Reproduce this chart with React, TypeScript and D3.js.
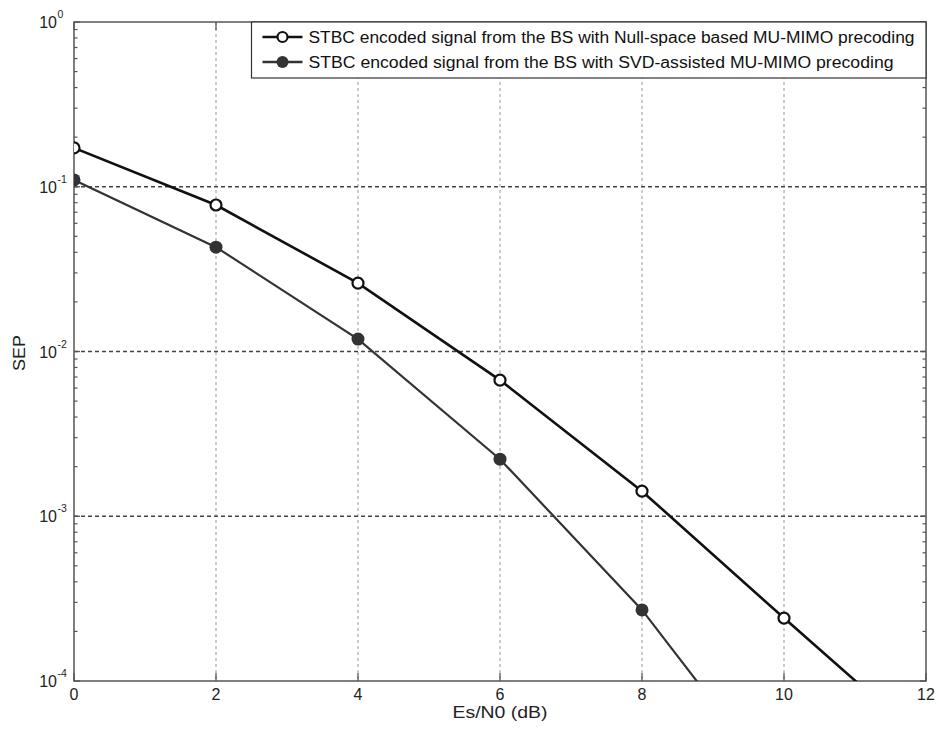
import React from 'react';
import * as d3 from 'd3';

// Es/N0 values (dB) and symbol error probability for both precoding schemes
const snrDb = [0, 2, 4, 6, 8, 10, 12];
const nullSpaceSep = [0.172, 0.0775, 0.026, 0.0067, 0.00142, 0.000241, 0.000042];
const svdSep = [0.11, 0.043, 0.0119, 0.00222, 0.00027, 0.0000205];

const xTicks = [0, 2, 4, 6, 8, 10, 12];
const yExponents = [0, -1, -2, -3, -4];

const legendLabels = [
  'STBC encoded signal from the BS with Null-space based MU-MIMO precoding',
  'STBC encoded signal from the BS with SVD-assisted MU-MIMO precoding',
];
const legendTextLengths = [606, 585];

const W = 939;
const H = 731;
const margin = { top: 22, right: 13, bottom: 50, left: 74 };

const App = () => {
  const innerW = W - margin.left - margin.right;
  const innerH = H - margin.top - margin.bottom;

  const x = d3.scaleLinear().domain([0, 12]).range([0, innerW]);
  const y = d3.scaleLog().domain([1e-4, 1]).range([innerH, 0]);

  const nullPts = snrDb.map((s, i) => ({ x: s, y: nullSpaceSep[i] }));
  const svdPts = svdSep.map((v, i) => ({ x: snrDb[i], y: v }));

  const line = d3
    .line<{ x: number; y: number }>()
    .x(d => x(d.x))
    .y(d => y(d.y));

  // minor log ticks 2..9 in each decade
  const minorTicks: number[] = [];
  for (let e = -4; e < 0; e++) {
    for (let m = 2; m <= 9; m++) minorTicks.push(m * Math.pow(10, e));
  }

  const font = 'Liberation Sans, Arial, Helvetica, sans-serif';
  const axisColor = '#555';

  return (
    <svg
      width={W}
      height={H}
      style={{ position: 'absolute', left: 0, top: 0, background: '#fff' }}
      fontFamily={font}
    >
      <defs>
        <clipPath id="plot-clip">
          <rect x={0} y={0} width={innerW} height={innerH} />
        </clipPath>
      </defs>
      <g transform={`translate(${margin.left},${margin.top})`}>
        {/* grid */}
        {xTicks.slice(1, -1).map(t => (
          <line
            key={`gx${t}`}
            x1={x(t)}
            x2={x(t)}
            y1={0}
            y2={innerH}
            stroke="#999"
            strokeWidth={1}
            strokeDasharray="3,3"
          />
        ))}
        {yExponents.slice(1, -1).map(e => (
          <line
            key={`gy${e}`}
            x1={0}
            x2={innerW}
            y1={y(Math.pow(10, e))}
            y2={y(Math.pow(10, e))}
            stroke="#444"
            strokeWidth={1.3}
            strokeDasharray="4,3"
          />
        ))}

        {/* axes box */}
        <rect x={0} y={0} width={innerW} height={innerH} fill="none" stroke={axisColor} strokeWidth={1.5} />

        {/* x ticks */}
        {xTicks.map(t => (
          <g key={`xt${t}`}>
            <line x1={x(t)} x2={x(t)} y1={innerH} y2={innerH - 8} stroke={axisColor} strokeWidth={1.3} />
            <line x1={x(t)} x2={x(t)} y1={0} y2={8} stroke={axisColor} strokeWidth={1.3} />
            <text x={x(t)} y={innerH + 19} textAnchor="middle" fontSize={16} fill="#222">
              {t}
            </text>
          </g>
        ))}

        {/* y ticks */}
        {yExponents.map(e => {
          const yy = y(Math.pow(10, e));
          return (
            <g key={`yt${e}`}>
              <line x1={0} x2={6} y1={yy} y2={yy} stroke={axisColor} strokeWidth={1.3} />
              <line x1={innerW} x2={innerW - 6} y1={yy} y2={yy} stroke={axisColor} strokeWidth={1.3} />
              <text x={-17} y={yy + 6} textAnchor="end" fontSize={16} fill="#222">
                10
              </text>
              <text x={-16.5} y={yy - 4} textAnchor="start" fontSize={10.5} fill="#222">
                {e}
              </text>
            </g>
          );
        })}
        {minorTicks.map((v, i) => (
          <g key={`mt${i}`}>
            <line x1={0} x2={3.5} y1={y(v)} y2={y(v)} stroke={axisColor} strokeWidth={1.2} />
            <line x1={innerW} x2={innerW - 3.5} y1={y(v)} y2={y(v)} stroke={axisColor} strokeWidth={1.2} />
          </g>
        ))}

        {/* series */}
        <g clipPath="url(#plot-clip)">
          <path d={line(svdPts) || ''} fill="none" stroke="#333" strokeWidth={2.2} />
          <path d={line(nullPts) || ''} fill="none" stroke="#111" strokeWidth={2.6} />
          {svdPts.map((d, i) => (
            <circle key={`sp${i}`} cx={x(d.x)} cy={y(d.y)} r={6.5} fill="#333" />
          ))}
          {nullPts.map((d, i) => (
            <circle key={`np${i}`} cx={x(d.x)} cy={y(d.y)} r={5.5} fill="#fff" stroke="#111" strokeWidth={2.2} />
          ))}
        </g>

        {/* legend */}
        <g transform={`translate(${x(2.5)},0)`}>
          <rect x={0} y={0} width={innerW - x(2.5)} height={56} fill="#fff" stroke="#333" strokeWidth={1.2} />
          {legendLabels.map((label, i) => (
            <g key={label} transform={`translate(0,${15 + i * 25})`}>
              <line x1={11} x2={51} y1={0} y2={0} stroke={i === 0 ? '#111' : '#333'} strokeWidth={2.5} />
              {i === 0 ? (
                <circle cx={31} cy={0} r={5} fill="#fff" stroke="#111" strokeWidth={2.2} />
              ) : (
                <circle cx={31} cy={0} r={6} fill="#333" />
              )}
              <text
                x={57}
                y={5.5}
                fontSize={16}
                fill="#111"
                textLength={legendTextLengths[i]}
                lengthAdjust="spacingAndGlyphs"
              >
                {label}
              </text>
            </g>
          ))}
        </g>

        {/* axis labels */}
        <text
          x={innerW / 2}
          y={innerH + 37}
          textAnchor="middle"
          fontSize={16}
          fill="#222"
          textLength={95}
          lengthAdjust="spacingAndGlyphs"
        >
          Es/N0 (dB)
        </text>
        <text
          transform={`translate(${-49},${331}) rotate(-90)`}
          textAnchor="middle"
          fontSize={16}
          fill="#222"
          textLength={36}
          lengthAdjust="spacingAndGlyphs"
        >
          SEP
        </text>
      </g>
    </svg>
  );
};

export default App;
